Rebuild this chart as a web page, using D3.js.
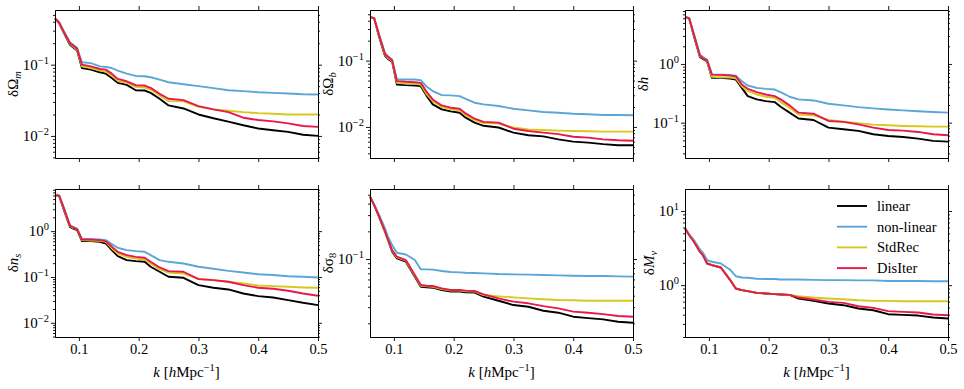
<!DOCTYPE html>
<html>
<head>
<meta charset="utf-8">
<script src="https://cdn.jsdelivr.net/npm/d3@7"></script>
<style>
  body { margin: 0; background: #fff; }
  text { font-family: "Liberation Serif", "DejaVu Serif", serif; }
</style>
</head>
<body>
<svg id="chart" width="964" height="389"></svg>
<script>
// k grid (h/Mpc), shared by every curve
const k = [0.06, 0.067, 0.075, 0.085, 0.09, 0.097, 0.105, 0.12, 0.135, 0.145, 0.155, 0.165, 0.18, 0.195,
           0.21, 0.22, 0.235, 0.25, 0.275, 0.3, 0.325, 0.35, 0.375, 0.4, 0.425, 0.45, 0.475, 0.5];

const seriesNames = ["linear", "non-linear", "StdRec", "DisIter"];
const seriesColors = ["#000000", "#5aa6d8", "#d8c81e", "#e5194b"];

// delta Omega_m
const linOm = [0.448, 0.381, 0.277, 0.190, 0.175, 0.158, 0.0898, 0.0851, 0.0782, 0.0749, 0.0652, 0.0555, 0.0520, 0.0438, 0.0434, 0.0402, 0.0332, 0.0268, 0.0243, 0.0200, 0.0177, 0.0159, 0.0141, 0.0127, 0.0120, 0.0114, 0.0104, 0.0100];
const nlOm  = [0.448, 0.390, 0.292, 0.207, 0.192, 0.171, 0.108, 0.105, 0.0948, 0.0927, 0.0898, 0.0825, 0.0749, 0.0695, 0.0688, 0.0666, 0.0618, 0.0567, 0.0532, 0.0499, 0.0468, 0.0438, 0.0425, 0.0411, 0.0402, 0.0394, 0.0385, 0.0381];
const stdOm = [0.448, 0.386, 0.282, 0.196, 0.180, 0.162, 0.0948, 0.0898, 0.0825, 0.0798, 0.0702, 0.0592, 0.0555, 0.0488, 0.0478, 0.0448, 0.0370, 0.0308, 0.0305, 0.0256, 0.0236, 0.0226, 0.0216, 0.0209, 0.0205, 0.0200, 0.0200, 0.0200];
const disOm = [0.448, 0.390, 0.286, 0.200, 0.186, 0.167, 0.100, 0.0948, 0.0870, 0.0851, 0.0749, 0.0631, 0.0585, 0.0515, 0.0509, 0.0472, 0.0390, 0.0332, 0.0318, 0.0262, 0.0236, 0.0216, 0.0180, 0.0167, 0.0160, 0.0150, 0.0138, 0.0134];

// delta Omega_b
const linOb = [0.452, 0.437, 0.232, 0.119, 0.106, 0.0966, 0.0437, 0.0427, 0.0422, 0.0412, 0.0292, 0.0219, 0.0184, 0.0172, 0.0164, 0.0138, 0.0116, 0.0104, 0.0098, 0.0082, 0.0075, 0.0072, 0.0065, 0.0060, 0.0058, 0.0055, 0.0053, 0.0053];
const nlOb  = [0.452, 0.437, 0.251, 0.130, 0.116, 0.1035, 0.0519, 0.0519, 0.0519, 0.0507, 0.0403, 0.0347, 0.0302, 0.0299, 0.0292, 0.0266, 0.0232, 0.0219, 0.0207, 0.0188, 0.0178, 0.0168, 0.0164, 0.0158, 0.0155, 0.0151, 0.0151, 0.0150];
const stdOb = [0.452, 0.437, 0.240, 0.123, 0.110, 0.0989, 0.0462, 0.0452, 0.0447, 0.0437, 0.0309, 0.0245, 0.0200, 0.0184, 0.0178, 0.0151, 0.0127, 0.0114, 0.0112, 0.0098, 0.0092, 0.0090, 0.0088, 0.0087, 0.0086, 0.0085, 0.0085, 0.0085];
const disOb = [0.452, 0.437, 0.245, 0.126, 0.114, 0.1012, 0.0490, 0.0479, 0.0473, 0.0462, 0.0335, 0.0260, 0.0211, 0.0195, 0.0188, 0.0160, 0.0133, 0.0119, 0.0116, 0.0094, 0.0087, 0.0082, 0.0078, 0.0071, 0.0069, 0.0065, 0.0063, 0.0062];

// delta h
const linH = [6.26, 6.02, 2.94, 1.31, 1.22, 1.10, 0.579, 0.579, 0.564, 0.542, 0.392, 0.283, 0.249, 0.233, 0.224, 0.187, 0.148, 0.118, 0.111, 0.0822, 0.0771, 0.0723, 0.0634, 0.0594, 0.0571, 0.0535, 0.0489, 0.0476];
const nlH  = [6.26, 6.02, 3.22, 1.44, 1.31, 1.18, 0.659, 0.659, 0.651, 0.634, 0.508, 0.429, 0.392, 0.377, 0.367, 0.331, 0.276, 0.249, 0.239, 0.210, 0.197, 0.184, 0.175, 0.168, 0.162, 0.156, 0.152, 0.148];
const stdH = [6.26, 6.02, 3.06, 1.35, 1.25, 1.12, 0.602, 0.594, 0.586, 0.572, 0.418, 0.344, 0.302, 0.276, 0.265, 0.224, 0.180, 0.138, 0.133, 0.111, 0.104, 0.0975, 0.0925, 0.0901, 0.0879, 0.0867, 0.0856, 0.0856];
const disH = [6.26, 6.02, 3.14, 1.38, 1.26, 1.15, 0.659, 0.651, 0.634, 0.618, 0.446, 0.377, 0.331, 0.302, 0.283, 0.249, 0.197, 0.148, 0.142, 0.107, 0.103, 0.0937, 0.0822, 0.0751, 0.0732, 0.0695, 0.0634, 0.0610];

// delta n_s
const linNs = [6.10, 5.90, 2.87, 1.24, 1.14, 1.05, 0.605, 0.605, 0.585, 0.538, 0.385, 0.285, 0.233, 0.222, 0.214, 0.167, 0.130, 0.101, 0.0959, 0.0664, 0.0580, 0.0534, 0.0436, 0.0382, 0.0357, 0.0313, 0.0273, 0.0243];
const nlNs  = [6.10, 5.90, 3.23, 1.35, 1.24, 1.14, 0.669, 0.669, 0.658, 0.636, 0.520, 0.433, 0.385, 0.366, 0.354, 0.300, 0.233, 0.214, 0.197, 0.167, 0.151, 0.136, 0.125, 0.115, 0.110, 0.104, 0.101, 0.0975];
const stdNs = [6.10, 5.90, 3.02, 1.29, 1.18, 1.09, 0.636, 0.626, 0.615, 0.585, 0.419, 0.326, 0.275, 0.253, 0.241, 0.197, 0.148, 0.125, 0.119, 0.0912, 0.0853, 0.0785, 0.0722, 0.0653, 0.0631, 0.0610, 0.0590, 0.0580];
const disNs = [6.10, 5.90, 3.12, 1.31, 1.20, 1.11, 0.658, 0.658, 0.636, 0.605, 0.455, 0.354, 0.300, 0.275, 0.262, 0.214, 0.161, 0.134, 0.130, 0.0897, 0.0853, 0.0785, 0.0664, 0.0580, 0.0552, 0.0499, 0.0436, 0.0388];

// delta sigma_8
const linS8 = [0.477, 0.386, 0.288, 0.198, 0.161, 0.120, 0.1016, 0.0935, 0.0643, 0.0500, 0.0492, 0.0488, 0.0460, 0.0442, 0.0442, 0.0435, 0.0431, 0.0390, 0.0352, 0.0316, 0.0303, 0.0274, 0.0261, 0.0236, 0.0228, 0.0221, 0.0208, 0.0203];
const nlS8  = [0.477, 0.393, 0.306, 0.215, 0.175, 0.142, 0.117, 0.112, 0.0975, 0.0772, 0.0772, 0.0766, 0.0741, 0.0722, 0.0716, 0.0710, 0.0705, 0.0699, 0.0687, 0.0681, 0.0676, 0.0670, 0.0664, 0.0659, 0.0653, 0.0653, 0.0648, 0.0643];
const stdS8 = [0.477, 0.386, 0.291, 0.201, 0.164, 0.123, 0.104, 0.0959, 0.0659, 0.0513, 0.0505, 0.0500, 0.0472, 0.0453, 0.0453, 0.0446, 0.0442, 0.0406, 0.0393, 0.0383, 0.0373, 0.0365, 0.0358, 0.0356, 0.0352, 0.0352, 0.0352, 0.0352];
const disS8 = [0.477, 0.386, 0.293, 0.203, 0.165, 0.125, 0.106, 0.0975, 0.0670, 0.0522, 0.0513, 0.0509, 0.0480, 0.0460, 0.0460, 0.0453, 0.0449, 0.0413, 0.0373, 0.0344, 0.0330, 0.0308, 0.0291, 0.0268, 0.0261, 0.0252, 0.0240, 0.0236];

// delta M_nu
const linMnu = [5.83, 4.74, 3.85, 2.82, 2.54, 1.96, 1.86, 1.73, 1.19, 0.901, 0.856, 0.830, 0.788, 0.771, 0.756, 0.748, 0.740, 0.660, 0.614, 0.565, 0.537, 0.484, 0.459, 0.406, 0.397, 0.389, 0.366, 0.355];
const nlMnu  = [5.83, 4.84, 4.06, 3.03, 2.73, 2.18, 2.07, 1.96, 1.63, 1.32, 1.27, 1.26, 1.22, 1.21, 1.21, 1.19, 1.19, 1.19, 1.18, 1.17, 1.17, 1.16, 1.16, 1.14, 1.14, 1.14, 1.13, 1.13];
const stdMnu = [5.83, 4.74, 3.85, 2.82, 2.54, 1.96, 1.86, 1.73, 1.19, 0.901, 0.856, 0.830, 0.788, 0.771, 0.756, 0.748, 0.740, 0.710, 0.681, 0.660, 0.647, 0.627, 0.614, 0.614, 0.608, 0.608, 0.608, 0.608];
const disMnu = [5.83, 4.74, 3.85, 2.82, 2.54, 1.96, 1.86, 1.73, 1.19, 0.901, 0.856, 0.830, 0.788, 0.771, 0.756, 0.748, 0.740, 0.681, 0.640, 0.596, 0.577, 0.520, 0.494, 0.446, 0.436, 0.428, 0.402, 0.393];

const xTicks = [0.1, 0.2, 0.3, 0.4, 0.5];

// label pieces: [text, italic?, sub?]
const panels = [
  { label: [["δΩ", false], ["m", true, true]], data: [linOm, nlOm, stdOm, disOm], ylim: [0.0049, 0.585], col: 0, row: 0 },
  { label: [["δΩ", false], ["b", true, true]], data: [linOb, nlOb, stdOb, disOb], ylim: [0.0034, 0.58], col: 1, row: 0 },
  { label: [["δ", false], ["h", true]], data: [linH, nlH, stdH, disH], ylim: [0.025, 8.3], col: 2, row: 0 },
  { label: [["δ", false], ["n", true], ["s", true, true]], data: [linNs, nlNs, stdNs, disNs], ylim: [0.0049, 8.3], col: 0, row: 1 },
  { label: [["δσ", false], ["8", false, true]], data: [linS8, nlS8, stdS8, disS8], ylim: [0.0142, 0.577], col: 1, row: 1 },
  { label: [["δ", false], ["M", true], ["ν", true, true]], data: [linMnu, nlMnu, stdMnu, disMnu], ylim: [0.2, 19.8], col: 2, row: 1, legend: true }
];

const svg = d3.select("#chart");
const colLeft = [55, 370, 685];
const rowTop = [10, 189];
const pw = 263, ph = 148;

const x = d3.scaleLinear().domain([0.06, 0.5]).range([0, pw]);

panels.forEach(p => {
  const g = svg.append("g").attr("transform", `translate(${colLeft[p.col]},${rowTop[p.row]})`);
  const y = d3.scaleLog().domain(p.ylim).range([ph, 0]);

  const lo = Math.floor(Math.log10(p.ylim[0])), hi = Math.ceil(Math.log10(p.ylim[1]));
  const majors = [], minors = [];
  for (let e = lo; e <= hi; e++) {
    const v = Math.pow(10, e);
    if (v >= p.ylim[0] && v <= p.ylim[1]) majors.push(v);
    for (let m = 2; m <= 9; m++) {
      const w = m * v;
      if (w >= p.ylim[0] && w <= p.ylim[1]) minors.push(w);
    }
  }

  // curves
  const line = d3.line().x((d, i) => x(k[i])).y(d => y(d));
  p.data.forEach((s, i) => {
    g.append("path").datum(s)
      .attr("d", line)
      .attr("fill", "none")
      .attr("stroke", seriesColors[i])
      .attr("stroke-width", 1.9)
      .attr("stroke-linejoin", "round");
  });

  // axes (ticks pointing out on all four sides)
  const bottom = g.append("g").attr("transform", `translate(0,${ph})`)
    .call(d3.axisBottom(x).tickValues(xTicks).tickSize(4).tickSizeOuter(0).tickPadding(3)
      .tickFormat(p.row === 1 ? d3.format(".1f") : ""));
  g.append("g").call(d3.axisTop(x).tickValues(xTicks).tickSize(4).tickSizeOuter(0).tickFormat(""));

  g.append("g").call(d3.axisLeft(y).tickValues(majors).tickSize(4).tickSizeOuter(0).tickFormat(""));
  g.append("g").call(d3.axisLeft(y).tickValues(minors).tickSize(2).tickSizeOuter(0).tickFormat(""));
  g.append("g").attr("transform", `translate(${pw},0)`)
    .call(d3.axisRight(y).tickValues(majors).tickSize(4).tickSizeOuter(0).tickFormat(""));
  g.append("g").attr("transform", `translate(${pw},0)`)
    .call(d3.axisRight(y).tickValues(minors).tickSize(2).tickSizeOuter(0).tickFormat(""));

  g.selectAll(".domain").attr("stroke", "#000").attr("stroke-width", 1);
  g.selectAll(".tick line").attr("stroke", "#000").attr("stroke-width", 0.9);
  bottom.selectAll("text").attr("font-size", 14.5).attr("fill", "#000");

  // y tick labels 10^n
  const yl = g.append("g");
  majors.forEach(v => {
    const e = Math.round(Math.log10(v));
    const t = yl.append("text")
      .attr("x", -6).attr("y", y(v)).attr("dy", "0.35em")
      .attr("text-anchor", "end").attr("font-size", 15);
    t.append("tspan").text("10");
    t.append("tspan").attr("dy", -6).attr("font-size", 10.5).text(String(e).replace("-", "\u2212"));
  });
  const bb = yl.node().getBBox();

  // y axis label
  const lab = g.append("text")
    .attr("transform", `translate(${bb.x - 5},${ph / 2}) rotate(-90)`)
    .attr("text-anchor", "middle").attr("font-size", 15);
  p.label.forEach(([t, it, sub]) => {
    const ts = lab.append("tspan").text(t);
    if (it) ts.attr("font-style", "italic");
    if (sub) ts.attr("font-size", 10.5).attr("dy", 3);
  });

  // x axis label on bottom row
  if (p.row === 1) {
    const xl = g.append("text").attr("x", pw / 2).attr("y", ph + 40)
      .attr("text-anchor", "middle").attr("font-size", 15);
    xl.append("tspan").attr("font-style", "italic").text("k");
    xl.append("tspan").text(" [");
    xl.append("tspan").attr("font-style", "italic").text("h");
    xl.append("tspan").text("Mpc");
    xl.append("tspan").attr("dy", -6).attr("font-size", 10.5).text("\u22121");
    xl.append("tspan").attr("dy", 6).text("]");
  }

  if (p.legend) {
    const lg = g.append("g").attr("transform", "translate(152,17)");
    seriesNames.forEach((n, i) => {
      const r = lg.append("g").attr("transform", `translate(0,${i * 20.7})`);
      r.append("line").attr("x1", 0).attr("x2", 30).attr("stroke", seriesColors[i]).attr("stroke-width", 1.9);
      r.append("text").attr("x", 40).attr("dy", "0.35em").attr("font-size", 14.5).text(n);
    });
  }
});
</script>
</body>
</html>
